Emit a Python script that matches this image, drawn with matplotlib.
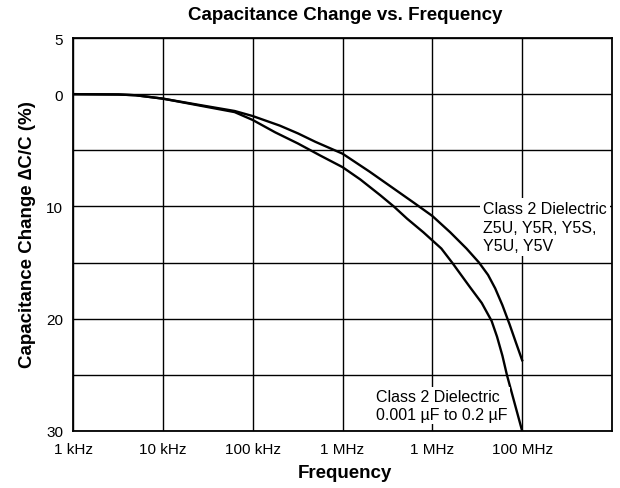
import matplotlib
matplotlib.use('Agg')
import matplotlib.pyplot as plt

plt.rcParams['font.family'] = ['Liberation Sans', 'DejaVu Sans']

# --- Data

# upper curve: Z5U, Y5R, Y5S, Y5U, Y5V
freq_a = [1e3, 3.2e3, 5e3, 1e4, 2.5e4, 6.3e4, 1e5, 2e5, 3.2e5, 5e5, 1e6, 2e6,
          3.7e6, 6.3e6, 1e7, 1.58e7, 2.4e7, 3.31e7, 4.17e7, 5.01e7, 6.03e7,
          7.24e7, 8.5e7, 1e8]
change_a = [0, 0.03, 0.1, 0.4, 0.95, 1.5, 1.95, 2.8, 3.5, 4.25, 5.3, 6.9,
            8.4, 9.7, 10.85, 12.3, 13.75, 15.0, 16.1, 17.3, 18.8,
            20.5, 22.1, 23.7]

# lower curve: 0.001 uF to 0.2 uF
freq_b = [1e3, 3.2e3, 5e3, 1e4, 2.5e4, 6.3e4, 1e5, 1.78e5, 3.2e5, 5.6e5, 1e6,
          1.58e6, 2.63e6, 3.72e6, 5.25e6, 7.94e6, 1.26e7, 1.66e7, 2.63e7,
          3.55e7, 4.57e7, 5.25e7, 6.03e7, 6.76e7, 1e8]
change_b = [0, 0.03, 0.1, 0.4, 1.0, 1.6, 2.3, 3.4, 4.4, 5.45, 6.5,
            7.6, 9.0, 10.0, 11.1, 12.3, 13.75, 15.0, 17.2,
            18.6, 20.2, 21.6, 23.3, 25.0, 30.0]

xticks = [1e3, 1e4, 1e5, 1e6, 1e7, 1e8]
xtick_labels = ['1 kHz', '10 kHz', '100 kHz', '1 MHz', '1 MHz', '100 MHz']
yticks = [-5, 0, 5, 10, 15, 20, 25, 30]
ytick_labels = ['5', '0', '', '10', '', '20', '', '30']

# --- Plotting

fig = plt.figure(figsize=(6.2, 4.89), dpi=100)
ax = fig.add_axes([73 / 620, 1 - 432 / 489, 539 / 620, 393 / 489])

ax.set_xscale('log')
ax.set_xlim(1e3, 1e9)
ax.set_ylim(30, -5)
ax.set_xticks(xticks)
ax.set_xticklabels(xtick_labels)
ax.minorticks_off()
ax.set_yticks(yticks)
ax.set_yticklabels(ytick_labels)
ax.tick_params(length=0, labelsize=11, colors='black')
ax.tick_params(axis='y', pad=7)
ax.tick_params(axis='x', pad=8)
ax.grid(True, color='black', lw=1.0)
for s in ax.spines.values():
    s.set_linewidth(1.3)

ax.plot(freq_a, change_a, color='black', lw=1.7, solid_joinstyle='round')
ax.plot(freq_b, change_b, color='black', lw=1.7, solid_joinstyle='round')

ax.text(0.761, 0.585, 'Class 2 Dielectric\nZ5U, Y5R, Y5S,\nY5U, Y5V',
        transform=ax.transAxes, ha='left', va='top', fontsize=11.5,
        linespacing=1.3,
        bbox=dict(facecolor='white', edgecolor='none', pad=2))
ax.text(0.562, 0.106, 'Class 2 Dielectric\n0.001 \u00b5F to 0.2 \u00b5F',
        transform=ax.transAxes, ha='left', va='top', fontsize=11.5,
        linespacing=1.2,
        bbox=dict(facecolor='white', edgecolor='none', pad=2))

fig.text(345 / 620, 1 - 15 / 489, 'Capacitance Change vs. Frequency',
         ha='center', va='center', fontsize=13.5, fontweight='bold')
fig.text(345 / 620, 1 - 474 / 489, 'Frequency',
         ha='center', va='center', fontsize=13.5, fontweight='bold')
fig.text(27 / 620, 1 - 235 / 489, 'Capacitance Change \u2206C/C (%)',
         ha='center', va='center', rotation=90, fontsize=13.5, fontweight='bold')

fig.savefig('out.png', dpi=100)
